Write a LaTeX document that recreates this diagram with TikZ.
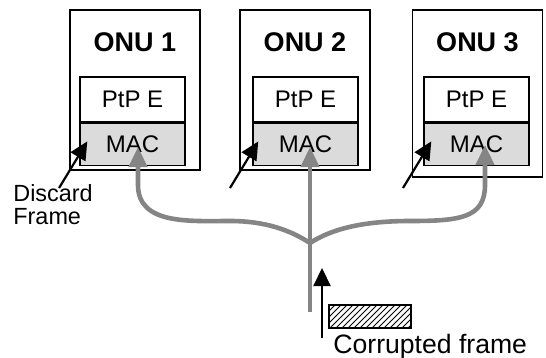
\documentclass[tikz,border=0pt]{standalone}
\usepackage{fontspec}
\setmainfont{Liberation Sans}
\usetikzlibrary{arrows.meta,positioning,calc,patterns}
\definecolor{Fiber}{gray}{0.52}
\definecolor{MacShade}{gray}{0.86}
\tikzset{
    every node/.style={font=\fontsize{12}{14}\selectfont},
    onubox/.style={
        draw, line width=0.8pt,
        minimum width=65pt, minimum height=80pt,
        inner sep=0pt
    },
    onutitle/.style={
        font=\fontsize{13.5}{16}\selectfont\bfseries, inner sep=0pt
    },
    ptpbox/.style={
        draw, line width=0.7pt,
        minimum width=52.5pt, minimum height=22.5pt,
        inner sep=0pt
    },
    macbox/.style={
        ptpbox, fill=MacShade, minimum height=21pt
    },
    fiberline/.style={
        line width=2.3pt, color=Fiber
    },
    fiberarrow/.style={
        fiberline, -{Triangle[length=10pt,width=9pt]}
    },
    hitarrow/.style={
        -{Triangle[length=9pt,width=8.5pt]}, line width=1.1pt
    },
    framebox/.style={
        draw, line width=0.8pt, pattern=north east lines,
        minimum width=41pt, minimum height=11.5pt, inner sep=0pt
    },
}

\begin{document}
\begin{tikzpicture}[x=0.5pt, y=-0.5pt]
    \useasboundingbox (0,0) rectangle (546,358);

    % Nodes
    \node[onubox] (onu1) at (135,90) {};
    \node[onubox] (onu2) at (305,90) {};
    \node[onubox, minimum height=83.5pt] (onu3) at (477.5,93.5) {};
    \node[onutitle] (title1) at (135,42) {ONU 1};
    \node[onutitle] (title2) at (305,42) {ONU 2};
    \node[onutitle] (title3) at (477.5,42) {ONU 3};
    \node[ptpbox] (ptp1) at (132.5,99.5) {PtP E};
    \node[macbox, below=0pt of ptp1] (mac1) {MAC};
    \node[ptpbox] (ptp2) at (305.5,99.5) {PtP E};
    \node[macbox, below=0pt of ptp2] (mac2) {MAC};
    \node[ptpbox] (ptp3) at (476.5,99.5) {PtP E};
    \node[macbox, below=0pt of ptp3] (mac3) {MAC};

    \node[font=\fontsize{11.7}{11.5}\selectfont, align=left, anchor=north west, inner sep=0pt] (discard) at (13,184) {Discard\\Frame};
    \node[framebox] (frame) at (370,316.5) {};
    \node[font=\fontsize{13.3}{16}\selectfont, anchor=north west, inner sep=0pt] (corrupt) at (333,334) {Corrupted frame};

    \coordinate (feed) at (310,312);
    \coordinate (split) at (310,243);
    \coordinate (in1) at (138,147);
    \coordinate (in2) at (310,147);
    \coordinate (in3) at (485,145);
    \coordinate (src2) at (230,188);
    \coordinate (src3) at (403,188);
    \coordinate (frametail) at (322,338);
    \coordinate (framehead) at (322,268);

    % Fiber tree
    \draw[fiberline] (feed) -- (split);
    \draw[fiberarrow] (split) -- (in2);
    \draw[fiberarrow] (split) .. controls (290,230) and (265,221) .. (230,221)
        .. controls (190,221) and (138,225) .. (138,185) -- (in1);
    \draw[fiberarrow] (split) .. controls (330,230) and (360,221) .. (410,221)
        .. controls (460,221) and (485,218) .. (485,185) -- (in3);

    % Arrows
    \draw[hitarrow] ($(discard.north)+(6,4)$) -- ($(mac1.west)+(8,-3)$);
    \draw[hitarrow] (src2) -- ($(mac2.west)+(6,-3)$);
    \draw[hitarrow] (src3) -- ($(mac3.west)+(8,-3)$);
    \draw[hitarrow] (frametail) -- (framehead);
\end{tikzpicture}
\end{document}
